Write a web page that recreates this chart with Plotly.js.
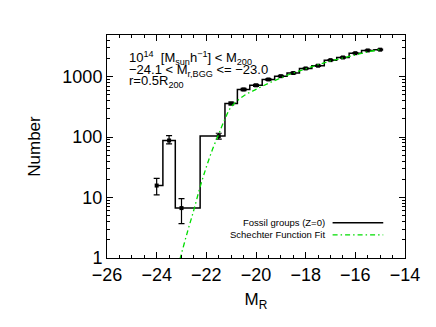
<!DOCTYPE html>
<html>
<head>
<meta charset="utf-8">
<script src="https://cdn.plot.ly/plotly-3.0.1.min.js"></script>
<style>
  html, body { margin: 0; padding: 0; background: #fff; }
  #plot { width: 436px; height: 327px; }
</style>
</head>
<body>
<div id="plot"></div>
<script>
"use strict";

// Fossil-group luminosity function.
const magBins = [-24, -23.5, -23, -21.5, -21, -20.5, -20, -19.5, -19, -18.5,
                 -18, -17.5, -17, -16.5, -16, -15.5, -15];
const counts = [15.8, 88, 6.7, 104, 360, 615, 720, 900, 1020, 1150,
                1370, 1520, 1880, 2080, 2450, 2720, 2800];
const errPlus = [5, 18, 2.9, 12, 19, 25, 27, 30, 32, 34, 37, 39, 43, 46, 49, 52, 53];
const errMinus = [4.7, 10.5, 3.0, 11, 19, 25, 27, 30, 32, 34, 37, 39, 43, 46, 49, 52, 53];

// Schechter fit curve
const fitMag = [-23.2, -23.05, -22.75, -22.5, -22.25, -22.0, -21.75, -21.5, -21.25,
                -21.0, -20.5, -20.0, -19.5, -19.0, -18.5, -18.0, -17.5, -17.0,
                -16.5, -16.0, -15.5, -15.0];
const fitN = [0.6, 1, 2.8, 6.3, 15, 32, 63, 112, 200, 316, 480, 617, 776, 955,
              1150, 1350, 1580, 1820, 2040, 2290, 2570, 2820];

const yTickVals = [1, 10, 100, 1000];
const yTickText = ["1", "10", "100", "1000"];
const yMinorVals = [];
[1, 10, 100, 1000].forEach(d => {
    for (let k = 2; k <= 9; k++) yMinorVals.push(d * k);
});

const legendItems = ["Fossil groups (Z=0)", "Schechter Function Fit"];
const GREEN = "#00dd00";
const FONT = "Liberation Sans, Arial, sans-serif";

const traces = [
    {
        x: magBins, y: counts,
        type: "scatter", mode: "lines",
        line: { color: "black", width: 1.5, shape: "hvh" },
        showlegend: false, hoverinfo: "skip",
    },
    {
        x: magBins, y: counts,
        type: "scatter", mode: "markers",
        marker: { color: "black", size: 4, symbol: "square" },
        error_y: { type: "data", array: errPlus, arrayminus: errMinus,
                   color: "black", thickness: 1.2, width: 3 },
        showlegend: false,
    },
    {
        x: fitMag, y: fitN,
        type: "scatter", mode: "lines",
        line: { color: GREEN, width: 1.3, dash: "5px,3px,1.5px,3px", shape: "spline" },
        showlegend: false, hoverinfo: "skip",
    },
];

const textAnn = (text, x, y, size, anchor) => ({
    text: text, x: x, y: y, xref: "paper", yref: "paper",
    xanchor: anchor || "left", yanchor: "middle", showarrow: false,
    font: { family: FONT, size: size, color: "black" },
});

const layout = {
    width: 436, height: 327,
    margin: { l: 107, r: 31, t: 35, b: 69 },
    paper_bgcolor: "white", plot_bgcolor: "white",
    font: { family: FONT, color: "black" },
    showlegend: false,
    xaxis: {
        range: [-26, -14],
        tickmode: "linear", tick0: -26, dtick: 2,
        ticks: "inside", ticklen: 6, tickwidth: 1, tickcolor: "black",
        minor: { dtick: 0.5, tick0: -26, ticks: "inside", ticklen: 3, tickcolor: "black", showgrid: false },
        showline: true, linecolor: "black", linewidth: 1, mirror: "allticks",
        showgrid: false, zeroline: false,
        tickfont: { family: FONT, size: 18 },
        title: { text: "M<sub>R</sub>", font: { family: FONT, size: 17 }, standoff: 9 },
    },
    yaxis: {
        type: "log", range: [0, 3.69],
        tickmode: "array", tickvals: yTickVals, ticktext: yTickText,
        ticks: "inside", ticklen: 6, tickwidth: 1, tickcolor: "black",
        minor: { tickmode: "array", tickvals: yMinorVals, ticks: "inside", ticklen: 3, tickcolor: "black", showgrid: false },
        showline: true, linecolor: "black", linewidth: 1, mirror: "allticks",
        showgrid: false, zeroline: false,
        tickfont: { family: FONT, size: 18 },
        title: { text: "Number", font: { family: FONT, size: 17 }, standoff: 17 },
    },
    annotations: [
        textAnn("10<sup>14</sup>  [M<sub>sun</sub>h<sup>−1</sup>] &lt; M<sub>200</sub>", 0.066, 0.895, 13),
        textAnn("−24.1 &lt; M<sub>r,BGG</sub> &lt;= −23.0", 0.066, 0.842, 13),
        textAnn("r=0.5R<sub>200</sub>", 0.066, 0.79, 13),
        textAnn(legendItems[0], 0.737, 0.158, 9.5, "right"),
        textAnn(legendItems[1], 0.737, 0.104, 9.5, "right"),
    ],
    shapes: [
        { type: "line", xref: "paper", yref: "paper", x0: 0.757, x1: 0.927, y0: 0.158, y1: 0.158,
          line: { color: "black", width: 1.3 } },
        { type: "line", xref: "paper", yref: "paper", x0: 0.757, x1: 0.927, y0: 0.104, y1: 0.104,
          line: { color: GREEN, width: 1.3, dash: "5px,3px,1.5px,3px" } },
    ],
};

Plotly.newPlot("plot", traces, layout, { displayModeBar: false, staticPlot: true });
</script>
</body>
</html>
